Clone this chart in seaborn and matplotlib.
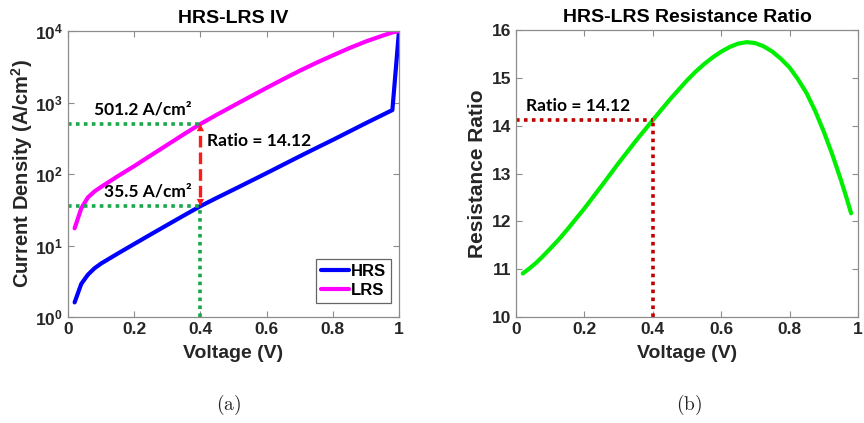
#%% libraries
import pandas as pd
import matplotlib
matplotlib.use("Agg")
import matplotlib.pyplot as plt
import seaborn as sns

#%% data
voltage = [0.02, 0.04, 0.06, 0.08, 0.10, 0.15, 0.20, 0.25, 0.30, 0.35,
           0.40, 0.45, 0.50, 0.55, 0.60, 0.65, 0.70, 0.75, 0.80, 0.85,
           0.90, 0.95, 0.98, 1.00]
hrs_density = [1.6, 2.9, 3.9, 4.8, 5.6, 7.7, 10.5, 14.3, 19.4, 26.3,
               35.5, 46.5, 60.5, 78.9, 103, 135, 177, 231, 300, 393,
               515, 670, 785, 10000]
lrs_density = [17.4, 33, 47, 57, 66, 93, 129, 182, 256, 360,
               501.2, 677, 904, 1206, 1602, 2122, 2782, 3592, 4566, 5769,
               7148, 8610, 9553, 10000]

ratio_voltage = [0.02, 0.04, 0.06, 0.08, 0.10, 0.125, 0.15, 0.175, 0.20,
                 0.25, 0.30, 0.35, 0.40, 0.45, 0.50, 0.525, 0.55, 0.575,
                 0.60, 0.625, 0.65, 0.675, 0.70, 0.725, 0.75, 0.775, 0.80,
                 0.825, 0.85, 0.875, 0.90, 0.925, 0.95, 0.965, 0.98]
resistance_ratio = [10.91, 11.02, 11.14, 11.28, 11.43, 11.62, 11.83, 12.05,
                    12.27, 12.74, 13.22, 13.68, 14.12, 14.55, 14.95, 15.13,
                    15.29, 15.43, 15.55, 15.65, 15.72, 15.75, 15.73, 15.66,
                    15.55, 15.40, 15.22, 14.97, 14.68, 14.31, 13.88, 13.40,
                    12.87, 12.53, 12.17]

read_voltage = 0.4
hrs_read = 35.5
lrs_read = 501.2
ratio_read = 14.12

log_ticks = [1, 10, 100, 1000, 10000]
log_tick_labels = ['10$^{0}$', '10$^{1}$', '10$^{2}$', '10$^{3}$', '10$^{4}$']
volt_ticks = [0, 0.2, 0.4, 0.6, 0.8, 1]
volt_tick_labels = ['0', '0.2', '0.4', '0.6', '0.8', '1']
ratio_ticks = [10, 11, 12, 13, 14, 15, 16]

iv_df = pd.DataFrame({
    'Voltage': voltage * 2,
    'Density': hrs_density + lrs_density,
    'State': ['HRS'] * len(voltage) + ['LRS'] * len(voltage),
})
ratio_df = pd.DataFrame({'Voltage': ratio_voltage, 'Ratio': resistance_ratio})

#%% style
sns.set_style('white')
plt.rcParams['font.family'] = ['Liberation Sans', 'DejaVu Sans']
plt.rcParams['font.weight'] = 'bold'
plt.rcParams['mathtext.fontset'] = 'custom'
plt.rcParams['mathtext.rm'] = 'Liberation Sans:bold'
plt.rcParams['mathtext.it'] = 'Liberation Sans:bold'
plt.rcParams['mathtext.bf'] = 'Liberation Sans:bold'
plt.rcParams['mathtext.sf'] = 'Liberation Sans:bold'

text_dark = '#262626'
spine_gray = '#8c8c8c'
guide_green = '#16a84a'
guide_red = '#c00000'
arrow_red = '#ff1a1a'
note_font = ['Lato', 'DejaVu Sans']
dotted = (0, (1, 1.2))


def style_axes(ax):
    for side in ax.spines.values():
        side.set_color(spine_gray)
        side.set_linewidth(0.9)
    ax.tick_params(direction='in', length=4, width=0.8, color=spine_gray,
                   labelsize=12.5, labelcolor=text_dark,
                   top=True, right=True, bottom=True, left=True)
    ax.tick_params(which='minor', length=0)


fig = plt.figure(figsize=(8.64, 4.23), dpi=100)
ax1 = fig.add_axes([0.0787, 0.2506, 0.3831, 0.676])
ax2 = fig.add_axes([0.5972, 0.2506, 0.3958, 0.678])

#%% (a) HRS-LRS IV
sns.lineplot(data=iv_df, x='Voltage', y='Density', hue='State',
             palette={'HRS': '#0000ff', 'LRS': '#ff00ff'},
             linewidth=3, ax=ax1, sort=False)
ax1.set_yscale('log')
ax1.set_xlim(0, 1)
ax1.set_ylim(1, 10000)
ax1.set_xticks(volt_ticks)
ax1.set_xticklabels(volt_tick_labels)
ax1.set_yticks(log_ticks)
ax1.set_yticklabels(log_tick_labels)
style_axes(ax1)

# guide lines at the read voltage
ax1.plot([0, read_voltage], [lrs_read, lrs_read], color=guide_green,
         linestyle=dotted, linewidth=2.6)
ax1.plot([0, read_voltage], [hrs_read, hrs_read], color=guide_green,
         linestyle=dotted, linewidth=2.6)
ax1.plot([read_voltage, read_voltage], [1, hrs_read], color=guide_green,
         linestyle=dotted, linewidth=2.6)
ax1.plot([read_voltage, read_voltage], [hrs_read * 1.35, lrs_read / 1.35],
         color=arrow_red, linestyle=(0, (3.5, 1.5)), linewidth=2.4)
for tip, tail in [(lrs_read, lrs_read / 1.5), (hrs_read, hrs_read * 1.5)]:
    ax1.annotate('', xy=(read_voltage, tip), xytext=(read_voltage, tail),
                 arrowprops=dict(arrowstyle='-|>', color=arrow_red, lw=0,
                                 mutation_scale=13, shrinkA=0, shrinkB=0))

ax1.text(0.375, lrs_read * 1.25, '501.2 A/cm²', ha='right', va='bottom',
         fontsize=12.5, family=note_font, fontweight='bold', color='black')
ax1.text(0.375, hrs_read * 1.25, '35.5 A/cm²', ha='right', va='bottom',
         fontsize=12.5, family=note_font, fontweight='bold', color='black')
ax1.text(0.42, 290, 'Ratio = 14.12', ha='left', va='center',
         fontsize=12.5, family=note_font, fontweight='bold', color='black')

ax1.set_title('HRS-LRS IV', fontsize=14, fontweight='bold', color='black', pad=6)
ax1.set_xlabel('Voltage (V)', fontsize=14, fontweight='bold', color=text_dark, labelpad=6)
ax1.set_ylabel('Current Density (A/cm$^{2}$)', fontsize=14.5, fontweight='bold',
               color=text_dark, labelpad=0)

leg = ax1.legend(loc='lower right', bbox_to_anchor=(0.975, 0.05), fontsize=12,
                 frameon=True, fancybox=False, handlelength=1.7,
                 handletextpad=0.1, borderpad=0.3, labelspacing=0.25,
                 borderaxespad=0)
leg.get_frame().set_edgecolor('#404040')
leg.get_frame().set_linewidth(0.9)
for txt in leg.get_texts():
    txt.set_fontweight('bold')
    txt.set_color('black')

#%% (b) HRS-LRS Resistance Ratio
sns.lineplot(data=ratio_df, x='Voltage', y='Ratio', color='#00ee00',
             linewidth=3, ax=ax2)
ax2.set_xlim(0, 1)
ax2.set_ylim(10, 16)
ax2.set_xticks(volt_ticks)
ax2.set_xticklabels(volt_tick_labels)
ax2.set_yticks(ratio_ticks)
style_axes(ax2)

ax2.plot([0, read_voltage], [ratio_read, ratio_read], color=guide_red,
         linestyle=dotted, linewidth=2.6)
ax2.plot([read_voltage, read_voltage], [10, ratio_read], color=guide_red,
         linestyle=dotted, linewidth=2.6)
ax2.text(0.03, ratio_read + 0.13, 'Ratio = 14.12', ha='left', va='bottom',
         fontsize=12.5, family=note_font, fontweight='bold', color='black')

ax2.set_title('HRS-LRS Resistance Ratio', fontsize=14, fontweight='bold',
              color='black', pad=6)
ax2.set_xlabel('Voltage (V)', fontsize=14, fontweight='bold', color=text_dark, labelpad=6)
ax2.set_ylabel('Resistance Ratio', fontsize=15, fontweight='bold',
               color=text_dark, labelpad=3)

#%% captions
fig.text(0.265, 0.043, r'$(\mathrm{a})$', ha='center', va='center',
         fontsize=14, math_fontfamily='cm')
fig.text(0.797, 0.043, r'$(\mathrm{b})$', ha='center', va='center',
         fontsize=14, math_fontfamily='cm')

fig.savefig('out.png', dpi=100)
